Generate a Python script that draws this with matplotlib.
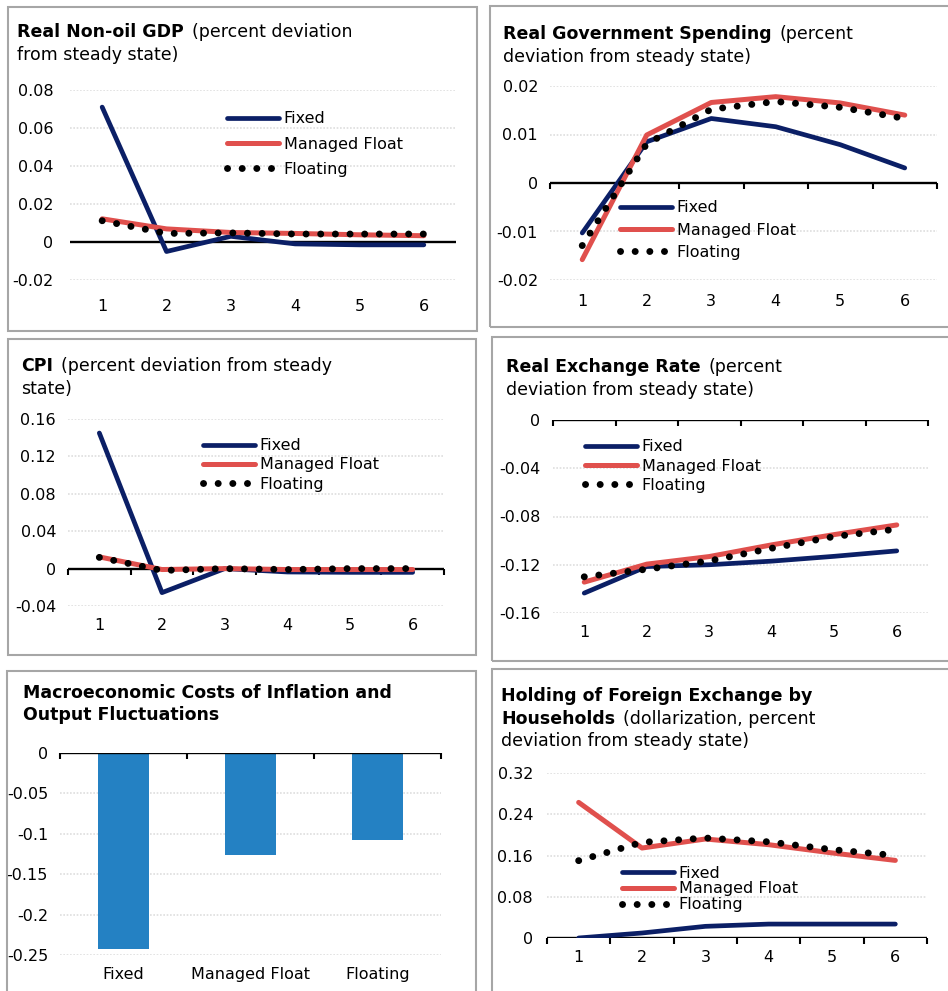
import numpy as np
import matplotlib
matplotlib.use('Agg')
import matplotlib.pyplot as plt
from matplotlib.patches import Rectangle

plt.rcParams['font.family'] = ['DejaVu Sans']
plt.rcParams['axes.unicode_minus'] = False

W, H = 948, 991

# ---- data ----
periods = [1, 2, 3, 4, 5, 6]
series_names = ['Fixed', 'Managed Float', 'Floating']

gdp_fixed = [0.071, -0.005, 0.003, -0.001, -0.0015, -0.0015]
gdp_managed = [0.0122, 0.0069, 0.0050, 0.0045, 0.0038, 0.0033]
gdp_floating = [0.0112, 0.0045, 0.0048, 0.0042, 0.0042, 0.0042]

gov_fixed = [-0.0103, 0.0085, 0.0133, 0.0116, 0.0079, 0.0031]
gov_managed = [-0.0158, 0.0099, 0.0166, 0.0178, 0.0165, 0.0140]
gov_floating = [-0.0129, 0.0081, 0.0152, 0.0168, 0.0156, 0.0133]

cpi_fixed = [0.145, -0.0257, 0.0, -0.0036, -0.004, -0.004]
cpi_managed = [0.0125, -0.001, 0.0, -0.001, -0.001, -0.001]
cpi_floating = [0.012, -0.002, 0.0, -0.001, 0.0, 0.0]

rer_fixed = [-0.1435, -0.1215, -0.120, -0.117, -0.113, -0.1085]
rer_managed = [-0.1344, -0.1195, -0.1132, -0.1035, -0.095, -0.087]
rer_floating = [-0.130, -0.1237, -0.1168, -0.1063, -0.0966, -0.0905]

cost_regimes = ['Fixed', 'Managed Float', 'Floating']
cost_values = [-0.2427, -0.126, -0.108]

fx_fixed = [0.0, 0.0097, 0.0226, 0.027, 0.027, 0.027]
fx_managed = [0.263, 0.1745, 0.192, 0.181, 0.165, 0.1505]
fx_floating = [0.150, 0.1855, 0.194, 0.1865, 0.1715, 0.160]

gdp_ticks = [-0.02, 0, 0.02, 0.04, 0.06, 0.08]
gov_ticks = [-0.02, -0.01, 0, 0.01, 0.02]
cpi_ticks = [-0.04, 0, 0.04, 0.08, 0.12, 0.16]
rer_ticks = [-0.16, -0.12, -0.08, -0.04, 0]
cost_ticks = [-0.25, -0.2, -0.15, -0.1, -0.05, 0]
fx_ticks = [0, 0.08, 0.16, 0.24, 0.32]

NAVY = '#0B1F66'
RED = '#E0504D'
BAR = '#2481C3'
BOX = '#A6A6A6'
GRID = '#DEDEDE'
TS = 12.5   # title font size
FS = 11.5   # tick / legend font size

fig = plt.figure(figsize=(W / 100, H / 100), dpi=100)


def box(x0, y0, x1, y1):
    r = Rectangle((x0 / W, 1 - y1 / H), (x1 - x0) / W, (y1 - y0) / H,
                  transform=fig.transFigure, fill=False, ec=BOX, lw=1.5)
    fig.add_artist(r)


def make_axes(x0, y0, x1, y1):
    return fig.add_axes([x0 / W, 1 - y1 / H, (x1 - x0) / W, (y1 - y0) / H])


def title(ax, x, y, lines):
    # lines: list of (bold part, normal part)
    for i, (b, n) in enumerate(lines):
        yy = 1 - (y + 22.5 * i) / H
        if b:
            t = fig.text(x / W, yy, b, fontsize=TS, fontweight='bold', va='baseline')
            if n:
                ax.annotate(n, xy=(1, 0), xycoords=t, xytext=(6, 0),
                            textcoords='offset points', fontsize=TS, va='bottom')
        else:
            fig.text(x / W, yy, n, fontsize=TS, va='baseline')


def style(ax, ticks, ypad, xpad, zero_ticks=True, ncat=6):
    for s in ax.spines.values():
        s.set_visible(False)
    ax.set_ylim(min(ticks), max(ticks))
    ax.set_yticks(ticks)
    ax.set_yticklabels([f'{v:g}' for v in ticks])
    ax.set_xlim(0.5, ncat + 0.5)
    ax.tick_params(axis='both', length=0, labelsize=FS)
    ax.tick_params(axis='y', pad=ypad)
    ax.tick_params(axis='x', pad=xpad)
    ax.grid(axis='y', color=GRID, lw=1.2, ls=(0, (1, 1)), zorder=0)
    ax.set_axisbelow(True)
    ax.axhline(0, color='black', lw=1.7, zorder=1.5)
    if zero_ticks:
        bounds = np.arange(ncat + 1) + 0.5
        ax.plot(bounds, np.zeros(len(bounds)), ls='none', marker=3, ms=4,
                mew=1.5, color='black', clip_on=False, zorder=1.5)


def lines(ax, fixed, managed, floating, lx, ly, spacing):
    ax.plot(periods, fixed, color=NAVY, lw=3.4, solid_capstyle='round', label=series_names[0], zorder=2)
    ax.plot(periods, managed, color=RED, lw=3.6, solid_capstyle='round', label=series_names[1], zorder=3)
    ax.plot(periods, floating, color='black', lw=5.0, ls=(0, (0.01, 2.1)),
            dash_capstyle='round', label=series_names[2], zorder=4)
    ax.set_xticks(periods)
    ax.legend(loc='center left', bbox_to_anchor=(lx / W, 1 - ly / H),
              bbox_transform=fig.transFigure, frameon=False, fontsize=FS,
              borderpad=0, borderaxespad=0, handlelength=3.25,
              handletextpad=0.3, labelspacing=spacing)


# panel borders
box(8, 7, 477, 331)
box(490, 6, 970, 327)
box(8, 339, 476, 655)
box(492, 337, 970, 661)
box(7, 671, 476, 1010)
box(492, 669, 970, 1010)

# Real non-oil GDP
ax1 = make_axes(70, 90, 456, 280)
style(ax1, gdp_ticks, 12, 14, zero_ticks=False)
lines(ax1, gdp_fixed, gdp_managed, gdp_floating, 227, 144, 0.64)
title(ax1, 17, 37, [('Real Non-oil GDP', '(percent deviation'), (None, 'from steady state)')])

# Real government spending
ax2 = make_axes(550, 86, 937, 280)
style(ax2, gov_ticks, 8.6, 10)
lines(ax2, gov_fixed, gov_managed, gov_floating, 620, 230, 0.45)
title(ax2, 503, 39, [('Real Government Spending', '(percent'), (None, 'deviation from steady state)')])

# CPI
ax3 = make_axes(68, 419, 444, 606)
style(ax3, cpi_ticks, 8.6, 9)
lines(ax3, cpi_fixed, cpi_managed, cpi_floating, 203, 465, 0.27)
title(ax3, 21, 371, [('CPI', '(percent deviation from steady'), (None, 'state)')])

# Real exchange rate
ax4 = make_axes(553, 420, 928, 613)
style(ax4, rer_ticks, 9, 8.6)
lines(ax4, rer_fixed, rer_managed, rer_floating, 585, 466, 0.27)
title(ax4, 506, 372, [('Real Exchange Rate', '(percent'), (None, 'deviation from steady state)')])

# Macroeconomic costs
ax5 = make_axes(60, 753, 441, 955)
style(ax5, cost_ticks, 8.6, 8.6, ncat=3)
xs = np.arange(1, len(cost_regimes) + 1)
ax5.bar(xs, cost_values, width=0.4, color=BAR, zorder=1)
ax5.set_xticks(xs)
ax5.set_xticklabels(cost_regimes)
title(ax5, 23, 698, [('Macroeconomic Costs of Inflation and', None), ('Output Fluctuations', None)])

# Holding of foreign exchange
ax6 = make_axes(547, 773, 927, 938)
style(ax6, fx_ticks, 10, 8.6)
lines(ax6, fx_fixed, fx_managed, fx_floating, 622, 889, 0.05)
title(ax6, 501, 701, [('Holding of Foreign Exchange by', None),
                      ('Households', '(dollarization, percent'),
                      (None, 'deviation from steady state)')])

fig.savefig('out.png', dpi=100)
